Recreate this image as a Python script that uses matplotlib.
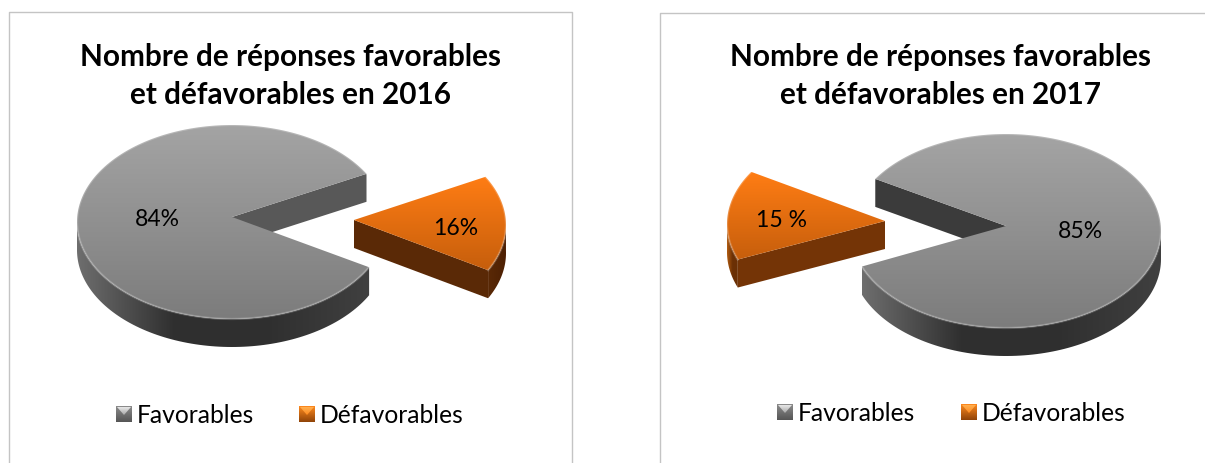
#!/usr/bin/env python3

import numpy as np
import matplotlib
matplotlib.use('Agg')
import matplotlib.pyplot as plt
from matplotlib.colors import LinearSegmentedColormap
from matplotlib.patches import Polygon, Rectangle

plt.rcParams['font.family'] = ['Lato', 'DejaVu Sans']

categories = ['Favorables', 'Défavorables']
values_2016 = [84, 16]
values_2017 = [85, 15]
labels_2016 = ['84%', '16%']
labels_2017 = ['85%', '15 %']
title_2016 = 'Nombre de réponses favorables\net défavorables en 2016'
title_2017 = 'Nombre de réponses favorables\net défavorables en 2017'

RX, RY, DEPTH = 155, 97, 28

GREY_TOP = ['#a4a4a4', '#7c7c7c']
ORANGE_TOP = ['#ff7d14', '#c65e0c']
GREY_WALL = ['#6e6e6e', '#2f2f2f', '#303030', '#404040']
ORANGE_WALL_RIGHT = ['#5a2906', '#4d2003']
ORANGE_WALL_LEFT = ['#b35c10', '#6b3005', '#6b3005']


def rim(cx, cy, degrees):
    rad = np.radians(degrees)
    return np.column_stack([cx + RX * np.cos(rad), cy - RY * np.sin(rad)])


def fill_gradient(ax, points, colors, horizontal=False):
    """polygon 영역을 그라디언트로 채우기"""
    cmap = LinearSegmentedColormap.from_list('g', colors)
    x0, x1 = points[:, 0].min(), points[:, 0].max()
    y0, y1 = points[:, 1].min(), points[:, 1].max()
    ramp = np.linspace(0, 1, 256)
    grad = ramp[None, :] if horizontal else ramp[:, None]
    im = ax.imshow(grad, cmap=cmap, extent=(x0, x1, y1, y0), aspect='auto',
                   interpolation='bilinear', zorder=ax.zorder_next)
    poly = Polygon(points, closed=True, transform=ax.transData, fill=False, lw=0)
    ax.add_patch(poly)
    im.set_clip_path(poly)
    ax.zorder_next += 1


def extrude(points):
    return np.vstack([points, (points + [0, DEPTH])[::-1]])


def draw_slice(ax, center, apex, a0, a1, top, wall, cut_angle, cut_color):
    cx, cy = center
    angles = np.linspace(a0, a1, 200)
    edge = rim(cx, cy, angles)

    # 바깥쪽 벽 (아래쪽 반원만 보임)
    sin_down = np.sin(np.radians(angles)) < 0.02
    if sin_down.any():
        fill_gradient(ax, extrude(edge[sin_down]), wall, horizontal=True)

    # 잘린 면
    cut = np.vstack([apex, rim(cx, cy, [cut_angle])])
    ax.add_patch(Polygon(extrude(cut), closed=True, facecolor=cut_color,
                         edgecolor='none', zorder=ax.zorder_next))
    ax.zorder_next += 1

    # 윗면
    fill_gradient(ax, np.vstack([apex, edge]), top)

    # 가장자리 하이라이트
    ax.plot(edge[:, 0], edge[:, 1], color='white', alpha=0.22, lw=1.6,
            zorder=ax.zorder_next)
    ax.zorder_next += 1


def draw_chart(ax, values, labels, title, frame, title_x, grey, orange, mid,
               label_pos, legend_y, legend_x):
    half = values[1] * 3.6 / 2
    o0, o1 = mid - half, mid + half

    x0, y0, x1, y1 = frame
    ax.plot([x0, x0, x1, x1], [y1, y0, y0, y1], color='#c4c4c4', lw=1, zorder=1)

    ax.text(title_x, 76, title, ha='center', va='center', fontsize=21.4,
            fontweight='bold', color='black', linespacing=1.42)

    if mid < 90:
        # 주황색 조각이 오른쪽: 회색 벽은 위쪽 절단면
        draw_slice(ax, grey[0], grey[1], o1, o0 + 360, GREY_TOP, GREY_WALL,
                   o1, '#585858')
        draw_slice(ax, orange[0], orange[1], o0, o1, ORANGE_TOP, ORANGE_WALL_RIGHT,
                   o0, '#5a2906')
    else:
        draw_slice(ax, grey[0], grey[1], o1 - 360, o0, GREY_TOP, GREY_WALL,
                   o0, '#3b3b3b')
        draw_slice(ax, orange[0], orange[1], o0, o1, ORANGE_TOP, ORANGE_WALL_LEFT,
                   o1, '#743406')

    for text, pos in zip(labels, label_pos):
        ax.text(pos[0], pos[1], text, ha='center', va='center', fontsize=16.6,
                color='black', zorder=ax.zorder_next)

    # 범례
    for name, x, cols in zip(categories, legend_x, [GREY_TOP, ORANGE_TOP]):
        square = np.array([[x, legend_y - 8], [x + 16, legend_y - 8],
                           [x + 16, legend_y + 8], [x, legend_y + 8]], dtype=float)
        dark = ['#8c8c8c', '#555555'] if cols is GREY_TOP else ['#ff8a1e', '#8f4308']
        fill_gradient(ax, square, dark)
        tip = np.array([[x + 1, legend_y - 7], [x + 15, legend_y - 7],
                        [x + 8, legend_y + 1]], dtype=float)
        light = ['#e8e8e8', '#a8a8a8'] if cols is GREY_TOP else ['#ffb050', '#ff8a1e']
        fill_gradient(ax, tip, light)
        ax.text(x + 21, legend_y + 1, name, ha='left', va='center', fontsize=17.7,
                color='black', zorder=ax.zorder_next)


def main():
    fig = plt.figure(figsize=(12.05, 4.64), dpi=100)
    ax = fig.add_axes([0, 0, 1, 1])
    ax.zorder_next = 2
    ax.add_patch(Rectangle((0, 0), 1205, 464, facecolor='white', zorder=0))

    draw_chart(ax, values_2016, labels_2016, title_2016,
               frame=(9, 13, 572, 470), title_x=290,
               grey=((232, 223), (232, 218)),
               orange=((351, 226), (354, 221)),
               mid=1,
               label_pos=[(157, 220), (456, 229)],
               legend_y=415, legend_x=(116, 299))

    draw_chart(ax, values_2017, labels_2017, title_2017,
               frame=(660, 14, 1210, 470), title_x=940,
               grey=((1006, 232), (1006, 227)),
               orange=((882, 225), (885, 222)),
               mid=174.5,
               label_pos=[(1080, 232), (781, 221)],
               legend_y=413, legend_x=(777, 961))

    ax.set_xlim(0, 1205)
    ax.set_ylim(464, 0)
    ax.axis('off')
    fig.savefig('out.png', dpi=100)
    plt.close(fig)


if __name__ == '__main__':
    main()
